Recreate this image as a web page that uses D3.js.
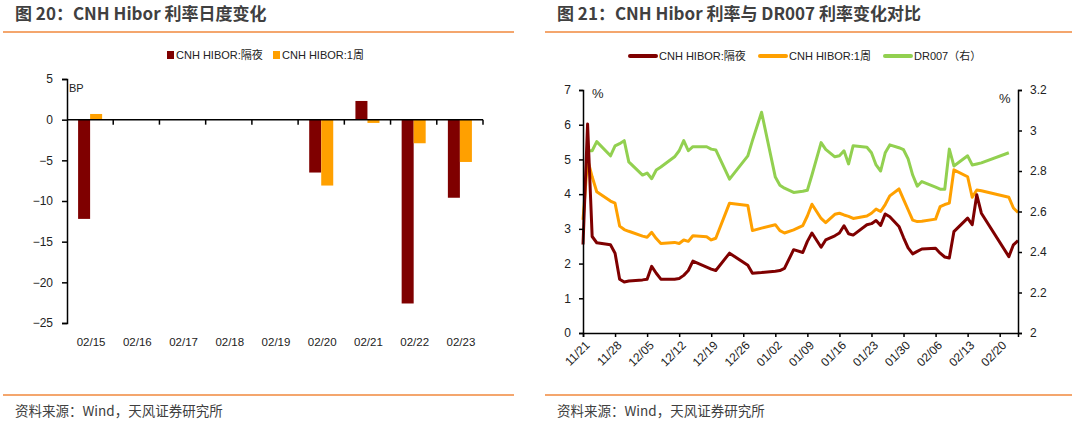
<!DOCTYPE html>
<html>
<head>
<meta charset="utf-8">
<script src="https://cdn.jsdelivr.net/npm/d3@7"></script>
<style>
  body { margin: 0; background: #ffffff; }
  svg { display: block; }
  .tf-title { font-family: "Noto Sans CJK SC", sans-serif; font-weight: bold; font-size: 17px; fill: #404040; }
  .tf-foot { font-family: "Noto Sans CJK SC", sans-serif; font-size: 13.5px; fill: #404040; }
  .tf-axis text { font-family: "Liberation Sans", "Noto Sans CJK SC", sans-serif; font-size: 11px; fill: #222; }
  .tf-legend { font-family: "Liberation Sans", "Noto Sans CJK SC", sans-serif; font-size: 11px; fill: #222; }
</style>
</head>
<body>
<svg id="tf-chart" width="1080" height="432"></svg>
<script>
// ---- left panel data : daily change of CNH Hibor (BP)
var barCategories = ["02/15", "02/16", "02/17", "02/18", "02/19", "02/20", "02/21", "02/22", "02/23"];
var barOvernight = [-12.2, 0, 0, 0, 0, -6.5, 2.3, -22.6, -9.6];
var barOneWeek = [0.7, 0, 0, 0, 0, -8.1, -0.4, -2.9, -5.2];
var barTicks = [5, 0, -5, -10, -15, -20, -25];

// ---- right panel data : CNH Hibor (left, %) vs DR007 (right, %)
var lineDates = [
  "2023-11-21", "2023-11-22", "2023-11-23", "2023-11-24", "2023-11-27", "2023-11-28", "2023-11-29", "2023-11-30",
  "2023-12-01", "2023-12-04", "2023-12-05", "2023-12-06", "2023-12-07", "2023-12-08", "2023-12-11", "2023-12-12",
  "2023-12-13", "2023-12-14", "2023-12-15", "2023-12-18", "2023-12-19", "2023-12-20", "2023-12-23", "2023-12-27",
  "2023-12-28", "2023-12-30", "2024-01-02", "2024-01-03", "2024-01-04", "2024-01-06", "2024-01-08", "2024-01-09",
  "2024-01-10", "2024-01-12", "2024-01-13", "2024-01-15", "2024-01-16", "2024-01-17", "2024-01-18", "2024-01-19",
  "2024-01-22", "2024-01-23", "2024-01-24", "2024-01-25", "2024-01-26", "2024-01-27", "2024-01-29", "2024-01-30",
  "2024-01-31", "2024-02-01", "2024-02-02", "2024-02-03", "2024-02-06", "2024-02-07", "2024-02-08", "2024-02-09",
  "2024-02-10", "2024-02-13", "2024-02-14", "2024-02-15", "2024-02-16", "2024-02-22", "2024-02-23", "2024-02-24"
];
var lineOvernight = [
  2.55, 6.02, 2.78, 2.6, 2.54, 2.3, 1.55, 1.47,
  1.5, 1.53, 1.55, 1.92, 1.72, 1.55, 1.55, 1.57,
  1.66, 1.8, 2.07, 1.9, 1.84, 1.8, 2.3, 1.95,
  1.72, 1.74, 1.78, 1.8, 1.86, 2.4, 2.32, 2.64,
  2.88, 2.47, 2.68, 2.8, 2.88, 3.09, 2.86, 2.82,
  3.12, 3.15, 3.24, 3.1, 3.43, 3.35, 3.07, 2.75,
  2.45, 2.28, 2.35, 2.42, 2.44, 2.3, 2.19, 2.16,
  2.92, 3.31, 3.12, 3.98, 3.45, 2.2, 2.54, 2.66
];
var lineOneWeek = [
  3.26, 5.0, 4.5, 4.07, 3.8, 3.74, 3.08, 2.98,
  2.93, 2.79, 2.76, 2.9, 2.72, 2.58, 2.61, 2.58,
  2.68, 2.64, 2.8, 2.77, 2.68, 2.73, 3.74, 3.67,
  2.95, 3.02, 3.12, 2.95, 2.88, 2.97, 3.09, 3.37,
  3.71, 3.3, 3.18, 3.42, 3.45, 3.4, 3.36, 3.3,
  3.37, 3.45, 3.57, 3.5, 3.7, 3.95, 4.15, 3.85,
  3.55, 3.25, 3.21, 3.22, 3.28, 3.64, 3.7, 3.74,
  4.7, 4.5, 3.91, 4.12, 4.1, 3.91, 3.6, 3.47
];
var lineDR007 = [
  null, 2.9, 2.9, 2.945, 2.875, 2.924, 2.935, 2.95,
  2.845, 2.78, 2.79, 2.762, 2.805, 2.82, 2.87, 2.9,
  2.95, 2.9, 2.92, 2.92, 2.908, 2.904, 2.76, 2.875,
  2.95, 3.09, 2.77, 2.73, 2.715, 2.694, 2.7, 2.705,
  2.78, 2.94, 2.907, 2.87, 2.875, 2.9, 2.835, 2.925,
  2.917, 2.89, 2.83, 2.8, 2.89, 2.929, 2.915, 2.905,
  2.86, 2.78, 2.725, 2.748, 2.72, 2.71, 2.71, 2.908,
  2.825, 2.875, 2.83, 2.835, 2.84, 2.89, null, null
];
var lineTickDates = [
  "2023-11-21", "2023-11-28", "2023-12-05", "2023-12-12", "2023-12-19", "2023-12-26", "2024-01-02",
  "2024-01-09", "2024-01-16", "2024-01-23", "2024-01-30", "2024-02-06", "2024-02-13", "2024-02-20"
];
var leftTicks = [0, 1, 2, 3, 4, 5, 6, 7];
var rightTicks = [2, 2.2, 2.4, 2.6, 2.8, 3, 3.2];

var colours = { overnight: "#7f0000", week: "#ffa000", dr: "#92d050", rule: "#f0883c" };

var svg = d3.select("#tf-chart");

/*
  NAME: drawFrame
  DESCRIPTION: title, orange rules and source note of one panel
*/
function drawFrame(x0, x1, title) {
  svg.append("text").attr("class", "tf-title")
    .attr("x", x0 + 12).attr("y", 20).text(title);

  svg.append("line")
    .attr("x1", x0).attr("x2", x1).attr("y1", 32).attr("y2", 32)
    .attr("stroke", colours.rule).attr("stroke-width", 1.5);

  svg.append("line")
    .attr("x1", x0).attr("x2", x1).attr("y1", 395).attr("y2", 395)
    .attr("stroke", colours.rule).attr("stroke-width", 1.5);

  svg.append("text").attr("class", "tf-foot")
    .attr("x", x0 + 12).attr("y", 416).text("资料来源：Wind，天风证券研究所");
} // end function drawFrame

/*
  NAME: drawBarChart
  DESCRIPTION: grouped bars of daily change, left panel
*/
function drawBarChart() {
  drawFrame(3, 514, "图 20：CNH Hibor 利率日度变化");

  var rows = barCategories.map(function (c, i) {
    return { cat: c, overnight: barOvernight[i], week: barOneWeek[i] };
  });

  var y = d3.scaleLinear().domain([-25, 5]).range([323, 79]);
  var x0 = d3.scaleBand().domain(barCategories).range([67, 483])
    .paddingInner(0.48).paddingOuter(0.24);
  var x1 = d3.scaleBand().domain(["overnight", "week"]).range([0, x0.bandwidth()]);

  var g = svg.append("g");

  g.selectAll(".tf-bar-group")
    .data(rows)
    .enter()
    .append("g")
    .attr("transform", function (d) { return "translate(" + x0(d.cat) + ",0)"; })
    .selectAll("rect")
    .data(function (d) {
      return [{ key: "overnight", v: d.overnight }, { key: "week", v: d.week }];
    })
    .enter()
    .append("rect")
    .attr("x", function (d) { return x1(d.key); })
    .attr("width", x1.bandwidth())
    .attr("y", function (d) { return y(Math.max(0, d.v)); })
    .attr("height", function (d) { return Math.abs(y(d.v) - y(0)); })
    .attr("fill", function (d) { return colours[d.key]; });

  // y axis
  var yAxis = g.append("g").attr("class", "tf-axis")
    .attr("transform", "translate(67,0)")
    .call(d3.axisLeft(y).tickValues(barTicks).tickSize(5).tickPadding(9).tickFormat(d3.format("d")));
  yAxis.selectAll("path,line").attr("stroke", "#000").attr("stroke-width", 1.5);
  yAxis.selectAll("text").style("font-size", "12px");

  // zero line with category boundary ticks
  g.append("line")
    .attr("x1", 67).attr("x2", 483).attr("y1", y(0)).attr("y2", y(0))
    .attr("stroke", "#000").attr("stroke-width", 1.5);
  g.selectAll(".tf-boundary")
    .data(barCategories)
    .enter()
    .append("line")
    .attr("x1", function (d) { return x0(d) - x0.step() * x0.paddingInner() / 2 + x0.step(); })
    .attr("x2", function (d) { return x0(d) - x0.step() * x0.paddingInner() / 2 + x0.step(); })
    .attr("y1", y(0)).attr("y2", y(0) + 5)
    .attr("stroke", "#000").attr("stroke-width", 1.5);

  // category labels below plot
  var xAxis = g.append("g").attr("class", "tf-axis")
    .attr("transform", "translate(0,333)")
    .call(d3.axisBottom(x0).tickSize(0).tickPadding(5));
  xAxis.select(".domain").remove();
  xAxis.selectAll("text").attr("dx", "1").style("font-size", "11.5px");

  g.append("text").attr("class", "tf-legend")
    .attr("x", 69).attr("y", 92).text("BP");

  // legend
  var legend = [
    { key: "overnight", label: "CNH HIBOR:隔夜", x: 167 },
    { key: "week", label: "CNH HIBOR:1周", x: 273 }
  ];
  var lg = g.selectAll(".tf-leg").data(legend).enter().append("g");
  lg.append("rect")
    .attr("x", function (d) { return d.x; }).attr("y", 51)
    .attr("width", 7).attr("height", 8)
    .attr("fill", function (d) { return colours[d.key]; });
  lg.append("text").attr("class", "tf-legend")
    .attr("x", function (d) { return d.x + 9; }).attr("y", 59)
    .text(function (d) { return d.label; });

  return;
} // end function drawBarChart

/*
  NAME: drawLineChart
  DESCRIPTION: CNH Hibor lines on left axis, DR007 on right axis
*/
function drawLineChart() {
  drawFrame(545, 1072, "图 21：CNH Hibor 利率与 DR007 利率变化对比");

  var parse = d3.timeParse("%Y-%m-%d");
  var dates = lineDates.map(parse);
  var ticks = lineTickDates.map(parse);

  var x = d3.scaleTime().domain(d3.extent(dates)).range([583, 1018]);
  var yL = d3.scaleLinear().domain([0, 7]).range([333, 90]);
  var yR = d3.scaleLinear().domain([2, 3.2]).range([333, 90]);

  var g = svg.append("g");

  var series = [
    { key: "dr", values: lineDR007, scale: yR },
    { key: "week", values: lineOneWeek, scale: yL },
    { key: "overnight", values: lineOvernight, scale: yL }
  ];

  series.forEach(function (s) {
    var line = d3.line()
      .defined(function (d) { return d != null; })
      .x(function (d, i) { return x(dates[i]); })
      .y(function (d) { return s.scale(d); });
    g.append("path")
      .datum(s.values)
      .attr("fill", "none")
      .attr("stroke", colours[s.key])
      .attr("stroke-width", 3)
      .attr("stroke-linejoin", "round")
      .attr("d", line);
  });

  // left axis
  var aL = g.append("g").attr("class", "tf-axis")
    .attr("transform", "translate(583,0)")
    .call(d3.axisLeft(yL).tickValues(leftTicks).tickSize(4).tickPadding(8).tickFormat(d3.format("d")));
  aL.selectAll("path,line").attr("stroke", "#000").attr("stroke-width", 1.5);
  aL.selectAll("text").style("font-size", "12px");

  // right axis
  var aR = g.append("g").attr("class", "tf-axis")
    .attr("transform", "translate(1018,0)")
    .call(d3.axisRight(yR).tickValues(rightTicks).tickSize(4).tickPadding(8).tickFormat(d3.format("~g")));
  aR.selectAll("path,line").attr("stroke", "#000").attr("stroke-width", 1.5);
  aR.selectAll("text").style("font-size", "12px");

  // bottom axis with rotated weekly labels
  var aB = g.append("g").attr("class", "tf-axis")
    .attr("transform", "translate(0,333)")
    .call(d3.axisBottom(x).tickValues(ticks).tickSize(4).tickFormat(d3.timeFormat("%m/%d")));
  aB.selectAll("path,line").attr("stroke", "#000").attr("stroke-width", 1.5);
  aB.selectAll("text")
    .attr("text-anchor", "end")
    .attr("dy", null)
    .attr("y", 0)
    .style("font-size", "12px")
    .attr("transform", "translate(7,13) rotate(-45)");

  g.append("text").attr("class", "tf-legend").style("font-size", "13px")
    .attr("x", 592).attr("y", 98).text("%");
  g.append("text").attr("class", "tf-legend").style("font-size", "13px")
    .attr("x", 999).attr("y", 103).text("%");

  // legend
  var legend = [
    { key: "overnight", label: "CNH HIBOR:隔夜", x: 630 },
    { key: "week", label: "CNH HIBOR:1周", x: 760 },
    { key: "dr", label: "DR007（右）", x: 885 }
  ];
  var lg = g.selectAll(".tf-leg").data(legend).enter().append("g");
  lg.append("line")
    .attr("x1", function (d) { return d.x; }).attr("x2", function (d) { return d.x + 26; })
    .attr("y1", 56).attr("y2", 56)
    .attr("stroke", function (d) { return colours[d.key]; })
    .attr("stroke-width", 4).attr("stroke-linecap", "round");
  lg.append("text").attr("class", "tf-legend")
    .attr("x", function (d) { return d.x + 29; }).attr("y", 60)
    .text(function (d) { return d.label; });

  return;
} // end function drawLineChart

drawBarChart();
drawLineChart();
</script>
</body>
</html>
